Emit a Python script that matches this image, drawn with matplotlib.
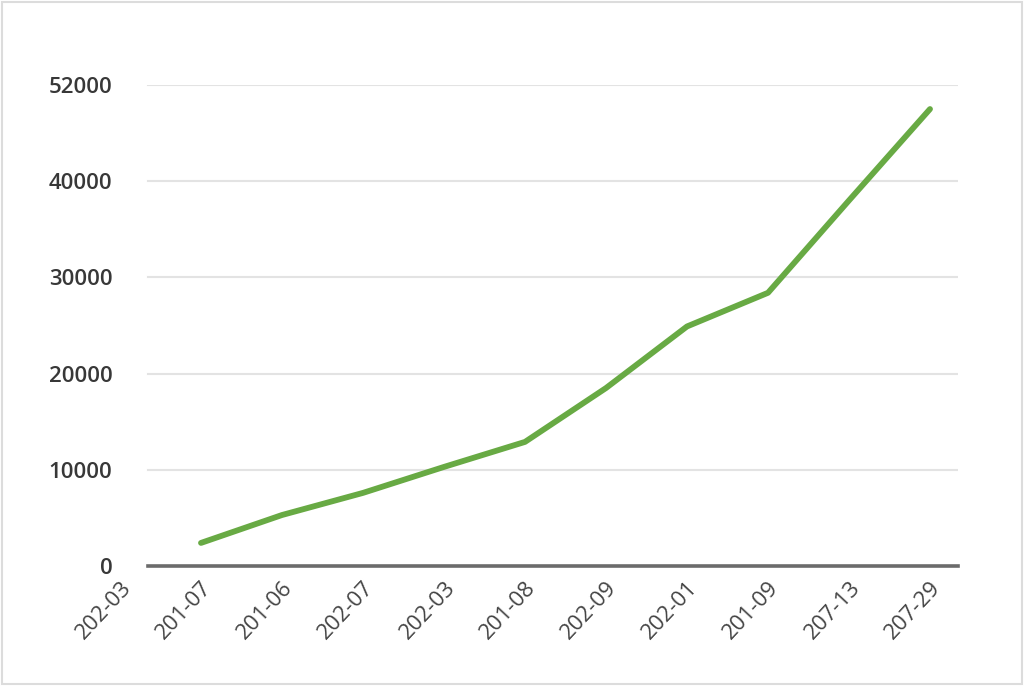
import matplotlib.pyplot as plt
from matplotlib.patches import Rectangle

# data
categories = ['202-03', '201-07', '201-06', '202-07', '202-03', '201-08',
              '202-09', '202-01', '201-09', '207-13', '207-29']
values = [None, 2400, 5300, 7600, 10300, 12900, 18500, 24900, 28400, 38000, 47500]
ytick_vals = [0, 10000, 20000, 30000, 40000, 50000]
ytick_labels = ['0', '10000', '20000', '30000', '40000', '52000']

W, H = 1024, 686
fig = plt.figure(figsize=(W / 100, H / 100), dpi=100)
fig.patch.set_facecolor('white')

# axes box in pixels: left edge 100, right 958, y=0 at 566, top at 85
ax_left, ax_right, ax_bot, ax_top = 100, 958, 566, 85
ax = fig.add_axes([ax_left / W, (H - ax_bot) / H,
                   (ax_right - ax_left) / W, (ax_bot - ax_top) / H])

xs = [i for i, v in enumerate(values) if v is not None]
ys = [v for v in values if v is not None]
ax.plot(xs, ys, color='#68aa44', lw=4.2, solid_capstyle='round',
        solid_joinstyle='round', zorder=3)

# first label sits at 120 px, last at 930 px
px_per_cat = (930 - 120) / (len(categories) - 1)
ax.set_xlim(-(120 - ax_left) / px_per_cat,
            len(categories) - 1 + (ax_right - 930) / px_per_cat)
ax.set_ylim(0, 50000)

# gridlines and baseline start at 148 px like the original
grid_start = (148 - ax_left) / (ax_right - ax_left)
for y in ytick_vals[1:]:
    ax.axhline(y, xmin=grid_start, xmax=1, color='#e3e3e3', lw=1.5, zorder=1)
ax.axhline(0, xmin=grid_start, xmax=1, color='#6b6b6b', lw=2.6, zorder=2,
           clip_on=False)

for s in ax.spines.values():
    s.set_visible(False)

ax.set_yticks(ytick_vals)
ax.set_yticklabels(ytick_labels, fontsize=16, color='#383838',
                   family='Open Sans', fontweight='semibold')
ax.tick_params(axis='y', length=0, pad=-9)

ax.set_xticks(range(len(categories)))
ax.set_xticklabels(categories, rotation=47, ha='right', rotation_mode='anchor',
                   fontsize=16, color='#444444', family='Open Sans',
                   fontweight='medium')
ax.tick_params(axis='x', length=0, pad=8)

# faint frame round the picture
fig.patches.append(Rectangle((0.002, 0.003), 0.996, 0.994, transform=fig.transFigure,
                             fill=False, edgecolor='#dcdcdc', lw=1.5))

fig.savefig('out.png', dpi=100, facecolor='white')
